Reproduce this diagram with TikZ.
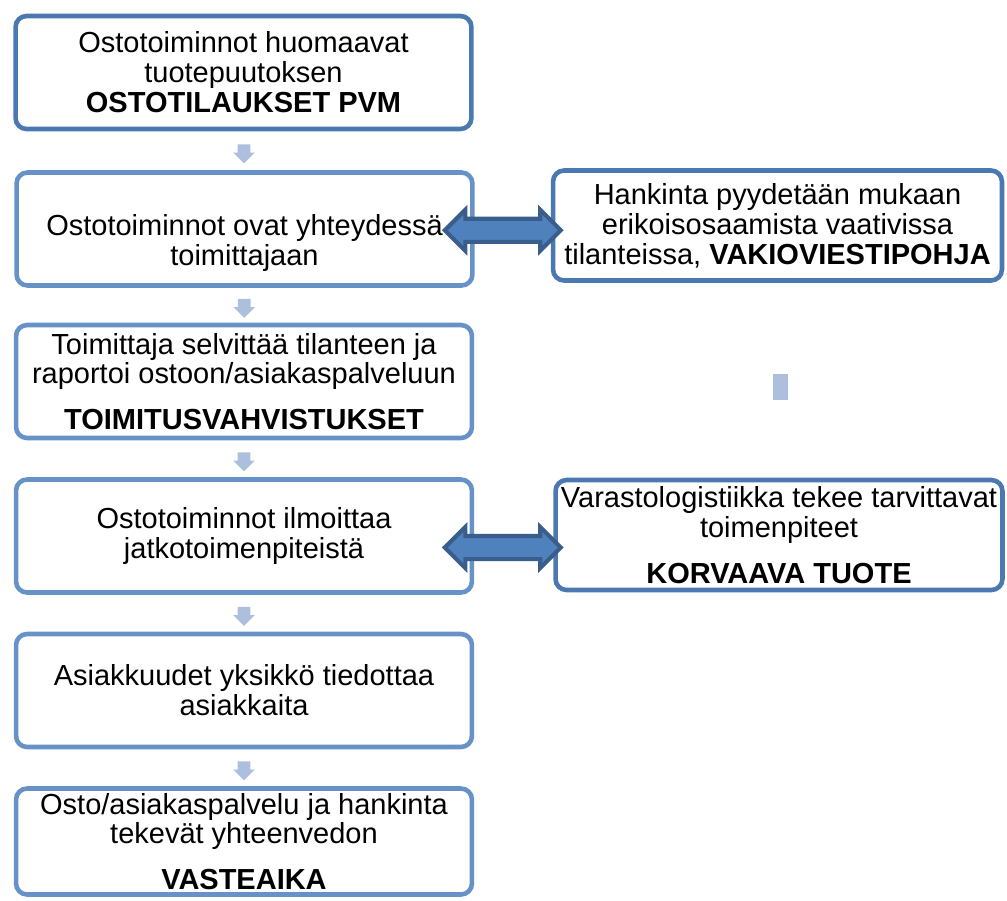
\documentclass[tikz,border=0pt]{standalone}
\usepackage{fontspec}
\setmainfont{Liberation Sans}
\usetikzlibrary{shapes.arrows,calc}
\definecolor{boxdark}{RGB}{74,120,176}
\definecolor{boxlight}{RGB}{102,146,200}
\definecolor{pale}{RGB}{172,192,222}
\definecolor{arrowfill}{RGB}{79,129,189}
\definecolor{arrowline}{RGB}{58,94,140}

\begin{document}
\begin{tikzpicture}[x=0.02cm,y=-0.02cm]
\tikzstyle{every node}=[font=\fontsize{16.5pt}{17pt}\selectfont]
\tikzstyle{stage}=[draw=boxlight, line width=2.6pt, fill=white, rounded corners=0.22cm, minimum width=9.12cm, minimum height=2.26cm, inner sep=0pt, align=center]
\tikzstyle{stagedark}=[stage, draw=boxdark]
\tikzstyle{sidebox}=[stagedark, minimum width=8.98cm, minimum height=2.2cm]
\tikzstyle{boxtext}=[align=center, inner sep=0pt]
\tikzstyle{downarrow}=[single arrow, shape border rotate=270, fill=pale, draw=none, inner sep=0.12cm, single arrow head extend=0.09cm, minimum height=0.38cm, minimum width=0.42cm]
\tikzstyle{bothways}=[double arrow, fill=arrowfill, draw=arrowline, line width=2.4pt, inner sep=0.19cm, double arrow head extend=0.18cm, minimum height=2.32cm]
\useasboundingbox (0,0) rectangle (1007,900);

\node [stagedark] (notice) at (243.5,72.5) {Ostotoiminnot huomaavat\\ tuotepuutoksen\\ \textbf{OSTOTILAUKSET PVM}};
\node [stage] (contact) at (244.5,229) {};
\node [boxtext] (contacttext) at (244.5,243) {Ostotoiminnot ovat yhteydessä\\ toimittajaan};
\node [stage] (report) at (244,381.5) {Toimittaja selvittää tilanteen ja\\ raportoi ostoon/asiakaspalveluun\\[9pt] \textbf{TOIMITUSVAHVISTUKSET}};
\node [stage] (inform) at (244,536) {Ostotoiminnot ilmoittaa\\ jatkotoimenpiteistä};
\node [stage] (customers) at (244,690.5) {Asiakkuudet yksikkö tiedottaa\\ asiakkaita};
\node [stage, minimum height=2.12cm] (summary) at (244,841.5) {Osto/asiakaspalvelu ja hankinta\\ tekevät yhteenvedon\\[9pt] \textbf{VASTEAIKA}};

\node [sidebox] (request) at (777.5,225.5) {Hankinta pyydetään mukaan\\ erikoisosaamista vaativissa\\ tilanteissa, \textbf{VAKIOVIESTIPOHJA}};
\node [sidebox, minimum width=8.94cm] (stock) at (779,535) {Varastologistiikka tekee tarvittavat\\ toimenpiteet\\[9pt] \textbf{KORVAAVA TUOTE}};

\node [downarrow] (step1) at ($(notice.south)!0.5!(contact.north)$) {};
\node [downarrow] (step2) at ($(contact.south)!0.5!(report.north)$) {};
\node [downarrow] (step3) at ($(report.south)!0.5!(inform.north)$) {};
\node [downarrow] (step4) at ($(inform.south)!0.5!(customers.north)$) {};
\node [downarrow] (step5) at ($(customers.south)!0.5!(summary.north)$) {};

\node [bothways, xshift=-0.2cm, yshift=-0.06cm] (contactlink) at ($(contact.east)!0.5!(request.west)$) {};
\node [bothways, xshift=-0.22cm, yshift=-0.24cm] (stocklink) at ($(inform.east)!0.5!(stock.west)$) {};

\node [fill=pale, inner sep=0pt, minimum width=0.3cm, minimum height=0.52cm] (stub) at (780.5,387) {};
\end{tikzpicture}
\end{document}
